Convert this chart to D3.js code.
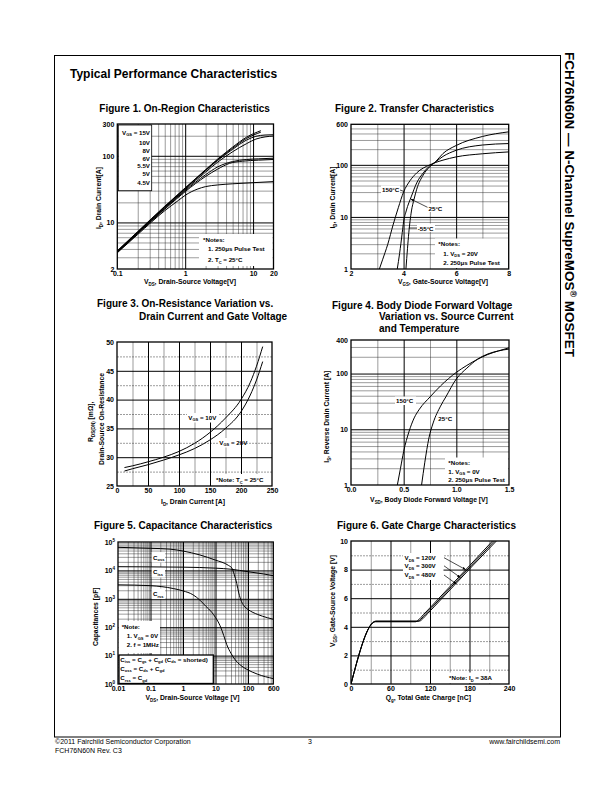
<!DOCTYPE html>
<html>
<head>
<meta charset="utf-8">
<script src="https://cdn.jsdelivr.net/npm/d3@7/dist/d3.min.js"></script>
<style>
html,body{margin:0;padding:0;background:#fff;}
svg{display:block;}
text{font-family:"Liberation Sans",Arial,Helvetica,sans-serif;}
</style>
</head>
<body>
<svg id="page" width="612" height="792" viewBox="0 0 612 792"></svg>
<script>
// ================= DATA =================
// Figure 1: On-Region Characteristics  [VDS (V), ID (A)]
const fig1Labels = ["V_{GS} = 15V", "10V", "8V", "6V", "5.5V", "5V", "4.5V"];
const fig1_15V = [[0.1,3.75],[0.2,7.3],[0.5,17.5],[1,33],[2,62],[3,89],[5,135],[8,190],[13,238]];
const fig1_10V = [[0.1,3.72],[0.2,7.2],[0.5,17.2],[1,32.5],[2,61],[3,87],[5,130],[8,182],[13,226]];
const fig1_8V  = [[0.1,3.68],[0.2,7.1],[0.5,17],[1,32],[2,60],[3,85],[5,125],[8,172],[11,196],[15,205],[20,207]];
const fig1_6V  = [[0.1,3.65],[0.2,7.0],[0.5,16.6],[1,31],[2,57],[3,80],[5,115],[8,152],[11,178],[15,192],[20,198]];
const fig1_5_5V = [[0.1,3.6],[0.2,6.9],[0.5,16.2],[1,30],[2,52],[3,68],[5,82],[8,88],[12,90],[20,92]];
const fig1_5V  = [[0.1,3.55],[0.2,6.8],[0.5,15.8],[1,29],[2,49],[3,63],[4.5,77],[7,83],[12,86],[20,88]];
const fig1_4_5V = [[0.1,3.5],[0.2,6.6],[0.5,15],[0.8,21.5],[1,25.5],[1.5,31.5],[2,34.5],[3,36.5],[5,38],[10,39.5],[20,41]];
const fig1XTicks = [0.1, 1, 10, 20];
const fig1XLabels = ["0.1", "1", "10", "20"];
const fig1YTicks = [2, 10, 100, 300];
const fig1YLabels = ["2", "10", "100", "300"];

// Figure 2: Transfer Characteristics  [VGS (V), ID (A)]
const fig2_150C = [[3.08,1],[3.2,1.5],[3.4,3],[3.6,7],[3.8,15],[4.0,30],[4.25,50],[4.5,70],[5.0,100],[5.2,110],[5.5,123],[6.0,142],[7.0,163],[8.0,177]];
const fig2_25C  = [[3.76,1],[3.85,2],[3.95,5],[4.0,8],[4.1,13],[4.3,25],[4.5,45],[4.75,70],[5.0,96],[5.2,112],[5.5,145],[6.0,190],[7.0,240],[8.0,256]];
const fig2_m55C = [[4.09,1],[4.15,2.5],[4.2,5],[4.3,13],[4.4,22],[4.5,34],[4.75,64],[5.0,92],[5.2,112],[5.5,165],[6.0,235],[7.0,350],[8.0,430]];
const fig2XTicks = [2, 4, 6, 8];
const fig2XLabels = ["2", "4", "6", "8"];
const fig2YTicks = [1, 10, 100, 600];
const fig2YLabels = ["1", "10", "100", "600"];

// Figure 3: On-Resistance vs Drain Current  [ID (A), RDS(on) (mOhm)]
const fig3_10V = [[12,28.2],[25,28.5],[50,29.2],[75,30.0],[100,31.0],[125,32.4],[150,34.3],[175,36.8],[200,40.0],[215,43],[225,45.8],[235,49.2]];
const fig3_20V = [[12,27.6],[25,28.0],[50,28.7],[75,29.5],[100,30.4],[125,31.5],[150,33.0],[175,35.0],[200,37.9],[215,40.8],[225,43.4],[235,46.6]];
const fig3XTicks = [0, 50, 100, 150, 200, 250];
const fig3XLabels = ["0", "50", "100", "150", "200", "250"];
const fig3YTicks = [25, 30, 35, 40, 45, 50];
const fig3YLabels = ["25", "30", "35", "40", "45", "50"];

// Figure 4: Body Diode Forward Voltage  [VSD (V), IS (A)]
const fig4_150C = [[0.44,1],[0.47,2],[0.5,4],[0.55,9],[0.6,16],[0.65,23],[0.75,38],[0.85,60],[1.0,105],[1.1,140],[1.2,180],[1.3,220],[1.4,255],[1.5,290]];
const fig4_25C  = [[0.67,1],[0.7,2.5],[0.74,7],[0.78,13],[0.85,26],[0.9,38],[1.0,80],[1.1,125],[1.2,180],[1.3,225],[1.4,255],[1.5,275]];
const fig4XTicks = [0, 0.5, 1.0, 1.5];
const fig4XLabels = ["0.0", "0.5", "1.0", "1.5"];
const fig4YTicks = [1, 10, 100, 400];
const fig4YLabels = ["1", "10", "100", "400"];

// Figure 5: Capacitance Characteristics  [VDS (V), C (pF)]
const fig5_Coss = [[0.01,6.5e4],[0.1,6e4],[0.4,5.6e4],[1,4.8e4],[3.3,3.5e4],[10,2.3e4],[25,1.5e4],[32,1.2e4],[38,7e3],[45,3.5e3],[52,1.6e3],[63,800],[80,520],[100,420],[200,280],[400,215],[600,190]];
const fig5_Ciss = [[0.01,1.35e4],[0.1,1.33e4],[1,1.3e4],[10,1.2e4],[30,1.1e4],[100,9e3],[300,7.5e3],[600,6.5e3]];
const fig5_Crss = [[0.01,3.1e3],[0.1,2.9e3],[0.5,2.3e3],[1,1.9e3],[2,1.4e3],[3.3,900],[5,550],[7.6,340],[10,220],[13.7,115],[18,50],[22,25],[30,12],[39,7.5],[60,4.5],[91,3.3],[200,2.2],[600,1.55]];
const fig5XTicks = [0.01, 0.1, 1, 10, 100, 600];
const fig5XLabels = ["0.01", "0.1", "1", "10", "100", "600"];
const fig5YTicks = [1, 10, 100, 1000, 10000, 100000];
const fig5YLabels = ["10^{0}", "10^{1}", "10^{2}", "10^{3}", "10^{4}", "10^{5}"];

// Figure 6: Gate Charge Characteristics  [Qg (nC), VGS (V)]
const fig6_120V = [[0,0],[37,4.35],[98,4.35],[103,4.5],[110,4.85],[120,5.33],[150,6.8],[180,8.27],[219,10.2]];
const fig6_300V = [[0,0],[37.5,4.38],[101,4.38],[106,4.53],[113,4.88],[123,5.36],[153,6.83],[183,8.3],[222,10.2]];
const fig6_480V = [[0,0],[38,4.4],[104,4.4],[109,4.56],[116,4.91],[126,5.39],[156,6.86],[186,8.33],[225,10.2]];
const fig6Labels = ["V_{DS} = 120V", "V_{DS} = 300V", "V_{DS} = 480V"];
const fig6XTicks = [0, 60, 120, 180, 240];
const fig6XLabels = ["0", "60", "120", "180", "240"];
const fig6YTicks = [0, 2, 4, 6, 8, 10];
const fig6YLabels = ["0", "2", "4", "6", "8", "10"];

// ================= DRAWING =================
const svg = d3.select("#page");
const defs = svg.append("defs");
defs.append("marker").attr("id","arrow").attr("viewBox","0 0 10 10").attr("refX",9).attr("refY",5)
  .attr("markerWidth",5).attr("markerHeight",5).attr("orient","auto")
  .append("path").attr("d","M0,1 L10,5 L0,9 z").attr("fill","#000");

function rich(t, s) {
  const fs = +t.attr("font-size");
  const parts = s.split(/([_^]\{[^}]*\})/);
  let off = 0;
  parts.forEach(p => {
    if (!p) return;
    let d = 0, txt = p, small = false;
    if (p[0] === "_") { d = fs * 0.3; txt = p.slice(2, -1); small = true; }
    else if (p[0] === "^") { d = -fs * 0.42; txt = p.slice(2, -1); small = true; }
    const ts = t.append("tspan").text(txt);
    if (d - off !== 0) ts.attr("dy", d - off);
    if (small) ts.attr("font-size", fs * 0.65);
    off = d;
  });
}
function label(g, x, y, s, o = {}) {
  const t = g.append("text").attr("x", x).attr("y", y)
    .attr("font-size", o.size || 6.2).attr("font-weight", o.weight || "bold")
    .attr("text-anchor", o.anchor || "start").attr("fill", "#000");
  if (o.rotate) t.attr("transform", `rotate(${o.rotate},${x},${y})`);
  rich(t, s);
  return t;
}
function logSplit(lo, hi) {
  const minor = [], major = [];
  for (let d = Math.floor(Math.log10(lo)); d <= Math.ceil(Math.log10(hi)); d++) {
    for (let k = 1; k < 10; k++) {
      const v = k * Math.pow(10, d);
      if (v > lo * 1.0001 && v < hi * 0.9999) (k === 1 ? major : minor).push(v);
    }
  }
  return { minor, major };
}

let clipCount = 0;
function panel(o) {
  const g = svg.append("g");
  const x = (o.xlog ? d3.scaleLog() : d3.scaleLinear()).domain(o.xd).range([o.l, o.r]);
  const y = (o.ylog ? d3.scaleLog() : d3.scaleLinear()).domain(o.yd).range([o.b, o.t]);
  const H = o.b - o.t, W = o.r - o.l;
  const grid = (vals, vertical, w, dash, col) => {
    if (!vals || !vals.length) return;
    const ax = vertical ? d3.axisBottom(x).tickSize(-H) : d3.axisLeft(y).tickSize(-W);
    const a = g.append("g").attr("transform", vertical ? `translate(0,${o.b})` : `translate(${o.l},0)`)
      .call(ax.tickValues(vals).tickFormat(""));
    a.select(".domain").remove();
    a.selectAll("line").attr("stroke", col || "#000").attr("stroke-width", w).attr("stroke-dasharray", dash || null);
  };
  grid(o.xMinor, true, 0.45, o.xDash, "#222");
  grid(o.yMinor, false, 0.45, o.yDash, "#222");
  grid(o.xMajor, true, 1);
  grid(o.yMajor, false, 1);

  const bx = g.append("g").attr("transform", `translate(0,${o.b})`)
    .call(d3.axisBottom(x).tickValues(o.xTicks).tickFormat((d, i) => o.xLabels[i]).tickSize(0).tickPadding(2.2));
  bx.select(".domain").remove();
  bx.selectAll("text").attr("font-size", 7).attr("font-weight", "bold").attr("fill", "#000");
  const by = g.append("g").attr("transform", `translate(${o.l},0)`)
    .call(d3.axisLeft(y).tickValues(o.yTicks).tickFormat((d, i) => o.yLabels[i]).tickSize(0).tickPadding(3));
  by.select(".domain").remove();
  by.selectAll("text").attr("font-size", 7).attr("font-weight", "bold").attr("fill", "#000");
  if (o.ySup) by.selectAll("text").each(function (d, i) { const t = d3.select(this); t.text(null); rich(t, o.yLabels[i]); });

  const id = "clip" + (clipCount++);
  defs.append("clipPath").attr("id", id).append("rect").attr("x", o.l).attr("y", o.t).attr("width", W).attr("height", H);
  const boxes = g.append("g");
  const curves = g.append("g").attr("clip-path", `url(#${id})`);
  const texts = g.append("g");
  const line = d3.line().x(d => x(d[0])).y(d => y(d[1])).curve(d3.curveMonotoneX);
  (o.series || []).forEach(s => curves.append("path").attr("d", line(s)).attr("fill", "none").attr("stroke", "#000").attr("stroke-width", 1));
  const frame = g.append("rect").attr("x", o.l).attr("y", o.t).attr("width", W).attr("height", H)
    .attr("fill", "none").attr("stroke", "#000").attr("stroke-width", 1.3);
  return { g, x, y, boxes, texts };
}
function wbox(p, x0, y0, x1, y1, stroke) {
  p.boxes.append("rect").attr("x", x0).attr("y", y0).attr("width", x1 - x0).attr("height", y1 - y0)
    .attr("fill", "#fff").attr("stroke", stroke ? "#000" : "none").attr("stroke-width", stroke || 0);
}

// Page frame and header
svg.append("rect").attr("x", 54.5).attr("y", 55.5).attr("width", 506).attr("height", 681.5)
  .attr("fill", "none").attr("stroke", "#000").attr("stroke-width", 1);
label(svg, 70, 78, "Typical Performance Characteristics", { size: 12 });
label(svg, 564.5, 52, "FCH76N60N — N-Channel SupreMOS^{®} MOSFET", { size: 13.5, rotate: 90 });
label(svg, 55, 744, "©2011 Fairchild Semiconductor Corporation", { size: 7, weight: "normal" });
label(svg, 55, 752.5, "FCH76N60N Rev. C3", { size: 7, weight: "normal" });
label(svg, 308, 744, "3", { size: 7, weight: "normal" });
label(svg, 560, 744, "www.fairchildsemi.com", { size: 7, weight: "normal", anchor: "end" });

// ----- Figure 1 -----
{
  const ls = logSplit(2, 300), lx = logSplit(0.1, 20);
  const p = panel({ l: 117.3, r: 273.5, t: 124, b: 269, xlog: true, ylog: true, xd: [0.1, 20], yd: [2, 300],
    xMinor: lx.minor, xMajor: lx.major, yMinor: ls.minor, yMajor: ls.major,
    xTicks: fig1XTicks, xLabels: fig1XLabels, yTicks: fig1YTicks, yLabels: fig1YLabels,
    series: [fig1_15V, fig1_10V, fig1_8V, fig1_6V, fig1_5_5V, fig1_5V, fig1_4_5V] });
  label(svg, 99.3, 112, "Figure 1. On-Region Characteristics", { size: 10 });
  wbox(p, 118.3, 125, 151.7, 190.7, 0.8);
  const ly = [134.5, 144.5, 152.5, 160.5, 168.3, 176.3, 185];
  fig1Labels.forEach((s, i) => label(p.texts, 150, ly[i], s, { anchor: "end" }));
  wbox(p, 199, 234, 272.5, 266);
  label(p.texts, 203, 242.3, "*Notes:");
  label(p.texts, 208, 251, "1. 250μs Pulse Test");
  label(p.texts, 208, 261.8, "2. T_{C} = 25°C");
  label(svg, 190, 284, "V_{DS}, Drain-Source Voltage[V]", { size: 6.8, anchor: "middle" });
  label(svg, 100.8, 198, "I_{D}, Drain Current[A]", { size: 6.8, anchor: "middle", rotate: -90 });
}
// ----- Figure 2 -----
{
  const ls = logSplit(1, 600);
  const p = panel({ l: 351, r: 508.7, t: 124.3, b: 269, ylog: true, xd: [2, 8], yd: [1, 600],
    xMinor: [3, 5, 7], xMajor: [4, 6], yMinor: ls.minor, yMajor: ls.major,
    xTicks: fig2XTicks, xLabels: fig2XLabels, yTicks: fig2YTicks, yLabels: fig2YLabels,
    series: [fig2_150C, fig2_25C, fig2_m55C] });
  label(svg, 335, 112, "Figure 2. Transfer Characteristics", { size: 10 });
  wbox(p, 381, 185.5, 400, 194);
  label(p.texts, 382, 192.3, "150°C");
  p.texts.append("line").attr("x1", 400).attr("y1", 190).attr("x2", p.x(4.0)).attr("y2", p.y(31)).attr("stroke", "#000").attr("stroke-width", 0.7);
  wbox(p, 428, 203.5, 444, 212);
  label(p.texts, 428.5, 210.5, "25°C");
  p.texts.append("line").attr("x1", 427.5).attr("y1", 207.3).attr("x2", p.x(4.28)).attr("y2", p.y(22))
    .attr("stroke", "#000").attr("stroke-width", 0.7).attr("marker-end", "url(#arrow)");
  wbox(p, 417, 223.5, 435, 232);
  label(p.texts, 417.7, 230.5, "-55°C");
  p.texts.append("line").attr("x1", 417).attr("y1", 228).attr("x2", p.x(4.2)).attr("y2", 228).attr("stroke", "#000").attr("stroke-width", 0.7);
  wbox(p, 435, 238.5, 508, 268);
  label(p.texts, 438.3, 246.3, "*Notes:");
  label(p.texts, 443.3, 255.5, "1. V_{DS} = 20V");
  label(p.texts, 443.3, 264.5, "2. 250μs Pulse Test");
  label(svg, 443, 284, "V_{GS}, Gate-Source Voltage[V]", { size: 6.8, anchor: "middle" });
  label(svg, 334.5, 197.5, "I_{D}, Drain Current[A]", { size: 6.8, anchor: "middle", rotate: -90 });
}
// ----- Figure 3 -----
{
  const p = panel({ l: 117, r: 272, t: 342, b: 486, xd: [0, 250], yd: [25, 50],
    xMinor: [25, 75, 125, 175, 225], xMajor: [50, 100, 150, 200], yMinor: [27.5, 32.5, 37.5, 42.5, 47.5], yMajor: [30, 35, 40, 45],
    yDash: "2,1",
    xTicks: fig3XTicks, xLabels: fig3XLabels, yTicks: fig3YTicks, yLabels: fig3YLabels,
    series: [fig3_10V, fig3_20V] });
  label(svg, 97, 307, "Figure 3. On-Resistance Variation vs.", { size: 10 });
  label(svg, 139, 319.7, "Drain Current and Gate Voltage", { size: 10 });
  wbox(p, 187, 413, 218, 422.5);
  label(p.texts, 188.3, 419.5, "V_{GS} = 10V");
  wbox(p, 218, 438, 241, 447.5);
  label(p.texts, 219.3, 444.5, "V_{GS} = 20V");
  wbox(p, 211.7, 474, 271.5, 485);
  label(p.texts, 216, 481.8, "*Note: T_{C} = 25°C");
  label(svg, 193, 503.5, "I_{D}, Drain Current [A]", { size: 6.8, anchor: "middle" });
  label(svg, 93, 421.7, "R_{DS(ON)} [mΩ],", { size: 6.8, anchor: "middle", rotate: -90 });
  label(svg, 103.5, 419, "Drain-Source On-Resistance", { size: 6.8, anchor: "middle", rotate: -90 });
}
// ----- Figure 4 -----
{
  const ls = logSplit(1, 400);
  const p = panel({ l: 351, r: 509, t: 340, b: 485, ylog: true, xd: [0, 1.5], yd: [1, 400],
    xMinor: [0.25, 0.75, 1.25], xMajor: [0.5, 1.0], yMinor: ls.minor, yMajor: ls.major,
    xTicks: fig4XTicks, xLabels: fig4XLabels, yTicks: fig4YTicks, yLabels: fig4YLabels,
    series: [fig4_150C, fig4_25C] });
  label(svg, 332, 308.5, "Figure 4. Body Diode Forward Voltage", { size: 10 });
  label(svg, 379, 320.3, "Variation vs. Source Current", { size: 10 });
  label(svg, 379, 331.8, "and Temperature", { size: 10 });
  wbox(p, 395, 396.5, 416, 405);
  label(p.texts, 396, 403, "150°C");
  wbox(p, 437.5, 414.5, 452, 423);
  label(p.texts, 438.3, 421, "25°C");
  wbox(p, 445, 457.5, 508, 484);
  label(p.texts, 448.3, 464.5, "*Notes:");
  label(p.texts, 448.3, 473.5, "1. V_{GS} = 0V");
  label(p.texts, 448.3, 482.3, "2. 250μs Pulse Test");
  label(svg, 429, 501.5, "V_{SD}, Body Diode Forward Voltage [V]", { size: 6.8, anchor: "middle" });
  label(svg, 329, 416.7, "I_{S}, Reverse Drain Current [A]", { size: 6.8, anchor: "middle", rotate: -90 });
}
// ----- Figure 5 -----
{
  const lx = logSplit(0.01, 600), ly = logSplit(1, 1e5);
  const p = panel({ l: 118, r: 273.3, t: 542, b: 684, xlog: true, ylog: true, xd: [0.01, 600], yd: [1, 1e5],
    xMinor: lx.minor, xMajor: lx.major, yMinor: ly.minor, yMajor: ly.major,
    xTicks: fig5XTicks, xLabels: fig5XLabels, yTicks: fig5YTicks, yLabels: fig5YLabels, ySup: true,
    series: [fig5_Coss, fig5_Ciss, fig5_Crss] });
  label(svg, 94, 529.3, "Figure 5. Capacitance Characteristics", { size: 10 });
  wbox(p, 151.7, 552, 165, 562.5);
  wbox(p, 151.7, 567, 165, 577.5);
  wbox(p, 151.7, 588.5, 165, 599);
  label(p.texts, 153, 559.5, "C_{oss}");
  label(p.texts, 153, 574, "C_{iss}");
  label(p.texts, 153, 596, "C_{rss}");
  wbox(p, 118.5, 621, 160, 653);
  label(p.texts, 121.7, 628.8, "*Note:");
  label(p.texts, 126.7, 638, "1. V_{GS} = 0V");
  label(p.texts, 126.7, 647.2, "2. f = 1MHz");
  wbox(p, 119, 655, 213.3, 683.5, 1.3);
  label(p.texts, 120.3, 661.5, "C_{iss} = C_{gs} + C_{gd} (C_{ds} = shorted)");
  label(p.texts, 120.3, 670.5, "C_{oss} = C_{ds} + C_{gd}");
  label(p.texts, 120.3, 680.3, "C_{rss} = C_{gd}");
  label(svg, 192.5, 699.8, "V_{DS}, Drain-Source Voltage [V]", { size: 6.8, anchor: "middle" });
  label(svg, 97.8, 616.7, "Capacitances [pF]", { size: 6.8, anchor: "middle", rotate: -90 });
}
// ----- Figure 6 -----
{
  const p = panel({ l: 351, r: 509, t: 541, b: 684, xd: [0, 240], yd: [0, 10],
    xMinor: [30, 90, 150, 210], xMajor: [60, 120, 180], yMinor: [1, 3, 5, 7, 9], yMajor: [2, 4, 6, 8],
    yDash: "2,1",
    xTicks: fig6XTicks, xLabels: fig6XLabels, yTicks: fig6YTicks, yLabels: fig6YLabels,
    series: [fig6_120V, fig6_300V, fig6_480V] });
  label(svg, 337, 529.3, "Figure 6. Gate Charge Characteristics", { size: 10 });
  wbox(p, 403, 553, 443.5, 580);
  const ty = [559.7, 567.8, 577];
  const targets = [[174, 8.0], [166, 7.45], [160, 7.0]];
  fig6Labels.forEach((s, i) => {
    label(p.texts, 404.5, ty[i], s);
    p.texts.append("line").attr("x1", 444).attr("y1", ty[i] - 2).attr("x2", p.x(targets[i][0])).attr("y2", p.y(targets[i][1]))
      .attr("stroke", "#000").attr("stroke-width", 0.7).attr("marker-end", "url(#arrow)");
  });
  wbox(p, 446, 672.5, 507, 683);
  label(p.texts, 449, 680.2, "*Note: I_{D} = 38A");
  label(svg, 428.3, 699.8, "Q_{g}, Total Gate Charge [nC]", { size: 6.8, anchor: "middle" });
  label(svg, 334.5, 601, "V_{GS}, Gate-Source Voltage [V]", { size: 6.8, anchor: "middle", rotate: -90 });
}
</script>
</body>
</html>
